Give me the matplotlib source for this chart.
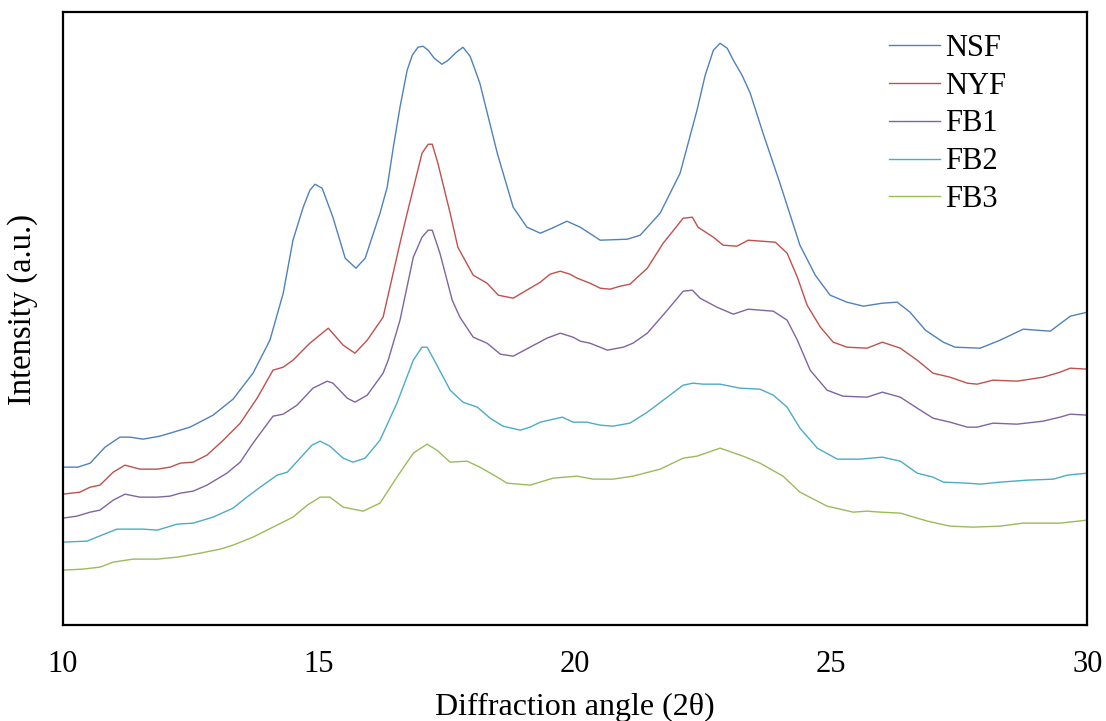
import matplotlib
matplotlib.use("Agg")
import matplotlib.pyplot as plt

plt.rcParams['font.family'] = ['Liberation Serif', 'DejaVu Serif']

# 2θ angles and intensities (arbitrary units)
nsf_x = [10.00, 10.29, 10.53, 10.82, 11.11, 11.31, 11.56, 11.89, 12.09, 12.48, 12.93, 13.32, 13.71,
         14.04, 14.30, 14.49, 14.69, 14.82, 14.92, 15.06, 15.27, 15.51, 15.72, 15.90, 16.19, 16.33,
         16.45, 16.58, 16.72, 16.82, 16.93, 17.03, 17.13, 17.25, 17.40, 17.52, 17.68, 17.81, 17.95,
         18.14, 18.48, 18.79, 19.06, 19.32, 19.55, 19.84, 20.10, 20.49, 21.02, 21.27, 21.66, 22.05,
         22.38, 22.54, 22.70, 22.83, 22.97, 23.09, 23.26, 23.42, 23.67, 24.00, 24.39, 24.69, 24.98,
         25.31, 25.63, 26.00, 26.29, 26.54, 26.84, 27.19, 27.42, 27.91, 28.30, 28.75, 29.28, 29.67,
         30.00]
nsf_y = [158, 158, 162, 178, 188, 188, 186, 189, 192, 198, 210, 226, 252,
         285, 332, 385, 418, 435, 441, 437, 408, 367, 357, 367, 412, 438,
         478, 518, 555, 570, 578, 579, 575, 567, 561, 565, 573, 578, 569,
         542, 472, 418, 398, 392, 397, 404, 398, 385, 386, 390, 412, 452,
         515, 550, 575, 582, 577, 565, 550, 532, 492, 442, 380, 350, 330,
         323, 319, 322, 323, 313, 295, 283, 278, 277, 285, 296, 294, 309,
         313]

nyf_x = [10.00, 10.33, 10.53, 10.72, 10.98, 11.21, 11.50, 11.84, 12.09, 12.29, 12.54, 12.81, 13.13,
         13.46, 13.79, 14.10, 14.30, 14.49, 14.82, 15.18, 15.47, 15.70, 15.94, 16.25, 16.58, 16.72,
         17.01, 17.13, 17.21, 17.32, 17.56, 17.71, 18.01, 18.28, 18.50, 18.79, 19.32, 19.51, 19.71,
         19.90, 20.04, 20.29, 20.49, 20.68, 20.88, 21.07, 21.41, 21.72, 22.11, 22.29, 22.40, 22.70,
         22.89, 23.16, 23.38, 23.91, 24.14, 24.34, 24.53, 24.79, 25.04, 25.31, 25.70, 26.00, 26.35,
         26.68, 26.99, 27.32, 27.66, 27.85, 28.16, 28.63, 29.14, 29.47, 29.67, 30.00]
nyf_y = [131, 133, 138, 140, 153, 160, 156, 156, 158, 162, 163, 170, 185,
         202, 227, 255, 258, 265, 282, 297, 280, 272, 285, 308, 382, 412,
         472, 481, 481, 462, 412, 378, 350, 342, 330, 327, 343, 351, 354,
         351, 347, 342, 337, 336, 339, 341, 357, 382, 407, 408, 398, 388,
         380, 379, 385, 383, 372, 348, 320, 298, 283, 278, 277, 283, 277,
         265, 252, 248, 242, 241, 245, 244, 248, 253, 257, 256]

fb1_x = [10.00, 10.27, 10.53, 10.72, 10.98, 11.21, 11.50, 11.84, 12.09, 12.29, 12.54, 12.81, 13.20,
         13.46, 13.71, 14.10, 14.30, 14.57, 14.88, 15.16, 15.27, 15.55, 15.70, 15.94, 16.25, 16.35,
         16.58, 16.84, 17.01, 17.13, 17.21, 17.36, 17.60, 17.75, 18.01, 18.28, 18.54, 18.79, 19.12,
         19.45, 19.71, 19.96, 20.10, 20.29, 20.63, 20.94, 21.13, 21.41, 21.80, 22.11, 22.29, 22.44,
         22.77, 23.09, 23.38, 23.87, 24.14, 24.34, 24.59, 24.92, 25.23, 25.70, 26.00, 26.35, 26.68,
         26.99, 27.32, 27.66, 27.85, 28.16, 28.63, 29.14, 29.47, 29.67, 30.00]
fb1_y = [107, 109, 113, 115, 125, 131, 128, 128, 129, 132, 134, 140, 152,
         163, 182, 209, 211, 220, 237, 244, 242, 227, 223, 230, 252, 265,
         305, 368, 388, 395, 395, 372, 325, 308, 288, 282, 271, 269, 278,
         287, 292, 288, 284, 282, 275, 278, 282, 292, 315, 334, 335, 327,
         318, 311, 316, 314, 305, 285, 255, 235, 229, 228, 233, 228, 217,
         207, 203, 198, 198, 202, 201, 204, 208, 211, 210]

fb2_x = [10.00, 10.47, 10.66, 11.05, 11.56, 11.84, 12.23, 12.54, 12.93, 13.32, 13.59, 13.85, 14.18,
         14.38, 14.63, 14.86, 15.02, 15.21, 15.47, 15.66, 15.90, 16.19, 16.52, 16.84, 17.01, 17.11,
         17.27, 17.56, 17.81, 18.09, 18.34, 18.59, 18.93, 19.12, 19.32, 19.75, 19.96, 20.23, 20.49,
         20.74, 21.07, 21.41, 21.80, 22.11, 22.30, 22.50, 22.83, 23.22, 23.61, 23.87, 24.14, 24.39,
         24.73, 25.12, 25.57, 26.00, 26.35, 26.68, 26.99, 27.19, 27.66, 27.91, 28.30, 28.83, 29.34,
         29.61, 30.00]
fb2_y = [83, 84, 88, 96, 96, 95, 101, 102, 108, 117, 128, 138, 150,
         153, 167, 180, 184, 179, 167, 163, 167, 185, 222, 265, 278, 278,
         263, 235, 223, 218, 207, 199, 195, 198, 203, 208, 203, 203, 200,
         199, 202, 213, 228, 240, 242, 241, 241, 237, 236, 230, 218, 197,
         177, 166, 166, 168, 164, 152, 148, 143, 142, 141, 143, 145, 146,
         150, 152]

fb3_x = [10.00, 10.39, 10.72, 10.98, 11.37, 11.84, 12.23, 12.68, 13.07, 13.32, 13.71, 14.10, 14.49,
         14.77, 15.02, 15.21, 15.47, 15.86, 16.19, 16.52, 16.84, 17.11, 17.30, 17.56, 17.89, 18.14,
         18.48, 18.67, 19.12, 19.57, 20.04, 20.35, 20.74, 21.13, 21.66, 22.11, 22.38, 22.83, 23.28,
         23.61, 24.06, 24.39, 24.92, 25.43, 25.70, 25.96, 26.35, 26.88, 27.32, 27.77, 28.30, 28.75,
         29.47, 30.00]
fb3_y = [55, 56, 58, 63, 66, 66, 68, 72, 76, 80, 88, 98, 108,
         120, 128, 128, 118, 114, 122, 148, 172, 181, 175, 163, 164, 158,
         148, 142, 140, 147, 149, 146, 146, 149, 156, 167, 169, 177, 169,
         162, 149, 133, 119, 113, 114, 113, 112, 104, 99, 98, 99, 102,
         102, 105]

series = [
    ("NSF", nsf_x, nsf_y, "#4F81BD"),
    ("NYF", nyf_x, nyf_y, "#C0504D"),
    ("FB1", fb1_x, fb1_y, "#8064A2"),
    ("FB2", fb2_x, fb2_y, "#4BACC6"),
    ("FB3", fb3_x, fb3_y, "#9BBB59"),
]

fig = plt.figure(figsize=(11.06, 7.21), dpi=100)
ax = fig.add_axes([0.057, 0.133, 0.926, 0.850])

for name, xs, ys, col in series:
    ax.plot(xs, ys, color=col, lw=1.0, label=name)

ax.set_xlim(10, 30)
ax.set_ylim(0, 613)
ax.set_xticks([10, 15, 20, 25, 30])
ax.set_yticks([])
ax.tick_params(axis='x', length=0, pad=18, labelsize=22)
for s in ax.spines.values():
    s.set_linewidth(1.6)

ax.set_xlabel("Diffraction angle (2θ)", fontsize=23, labelpad=10)
ax.set_ylabel("Intensity (a.u.)", fontsize=23.5)
ax.yaxis.set_label_coords(-0.024, 0.515)

ax.legend(loc='upper right', bbox_to_anchor=(0.933, 0.985), frameon=False,
          fontsize=22, handlelength=1.65, handletextpad=0.18, labelspacing=0.29,
          borderaxespad=0)

fig.savefig("out.png", dpi=100)
